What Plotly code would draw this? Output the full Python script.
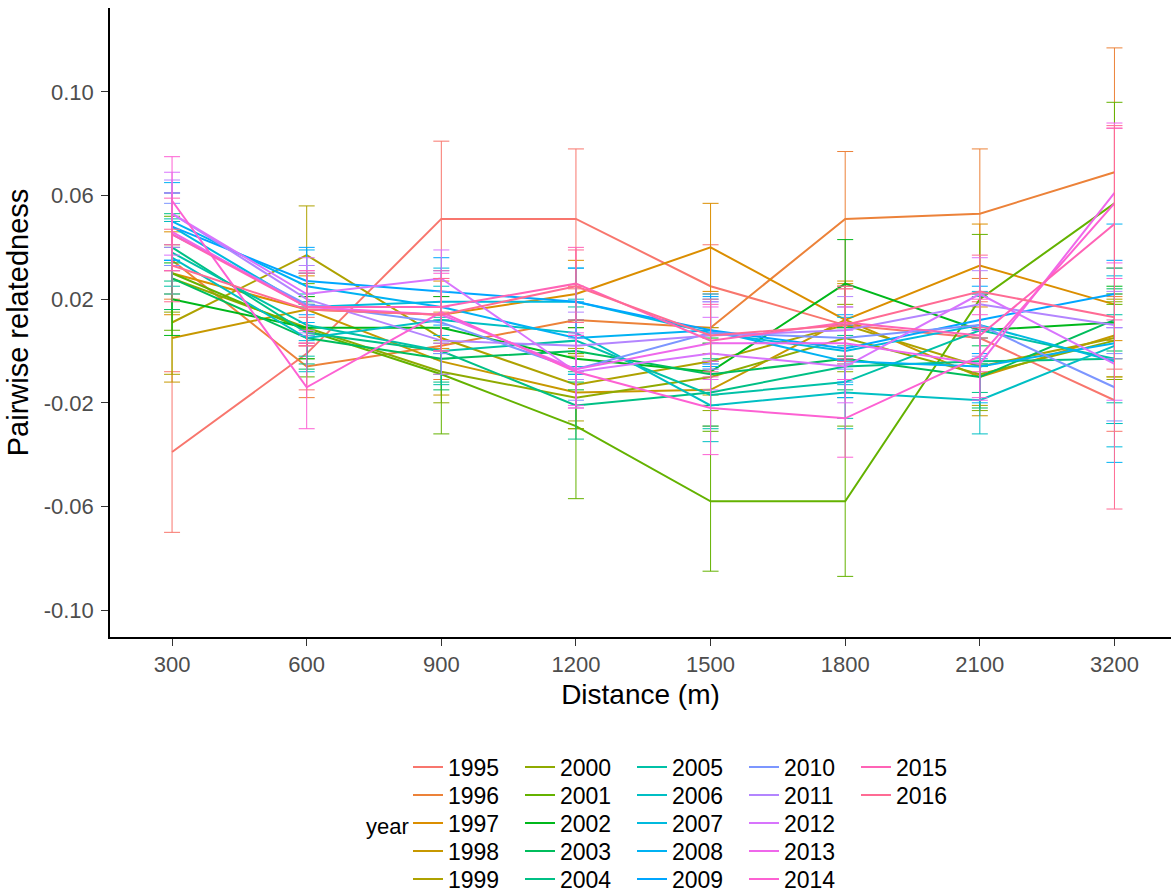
import math
import plotly.graph_objects as go

# ---------------- data ----------------
distances = ["300", "600", "900", "1200", "1500", "1800", "2100", "3200"]
years = [str(y) for y in range(1995, 2017)]
y_ticks = [-0.10, -0.06, -0.02, 0.02, 0.06, 0.10]
y_tick_labels = ["-0.10", "-0.06", "-0.02", "0.02", "0.06", "0.10"]

r_1995 = [-0.039, -0.001, 0.051, 0.051, 0.025, 0.010, 0.005, -0.019]
e_1995 = [0.031, 0.014, 0.030, 0.027, 0.016, 0.014, 0.014, 0.012]
r_1996 = [0.035, -0.006, 0.002, 0.012, 0.009, 0.051, 0.053, 0.069]
e_1996 = [0.015, 0.012, 0.013, 0.013, 0.013, 0.026, 0.025, 0.048]
r_1997 = [0.030, 0.016, 0.014, 0.022, 0.040, 0.012, 0.033, 0.018]
e_1997 = [0.016, 0.013, 0.013, 0.013, 0.017, 0.015, 0.016, 0.014]
r_1998 = [0.005, 0.016, -0.004, -0.016, -0.015, 0.012, -0.010, 0.006]
e_1998 = [0.017, 0.014, 0.013, 0.014, 0.014, 0.014, 0.015, 0.016]
r_1999 = [0.011, 0.037, 0.005, -0.013, -0.004, 0.010, -0.006, 0.005]
e_1999 = [0.020, 0.019, 0.014, 0.014, 0.013, 0.015, 0.015, 0.015]
r_2000 = [0.028, 0.009, -0.008, -0.018, -0.010, 0.005, -0.009, 0.004]
e_2000 = [0.013, 0.012, 0.012, 0.012, 0.013, 0.013, 0.014, 0.015]
r_2001 = [0.030, 0.008, -0.009, -0.029, -0.058, -0.058, 0.020, 0.057]
e_2001 = [0.022, 0.018, 0.023, 0.028, 0.027, 0.029, 0.025, 0.039]
r_2002 = [0.020, 0.009, 0.009, -0.003, -0.008, 0.026, 0.008, 0.011]
e_2002 = [0.014, 0.012, 0.012, 0.012, 0.013, 0.017, 0.014, 0.014]
r_2003 = [0.028, 0.005, -0.003, 0.000, -0.009, -0.003, -0.010, 0.012]
e_2003 = [0.012, 0.012, 0.012, 0.012, 0.012, 0.012, 0.012, 0.012]
r_2004 = [0.040, 0.007, 0.000, -0.021, -0.016, -0.006, -0.004, -0.003]
e_2004 = [0.013, 0.012, 0.012, 0.013, 0.013, 0.012, 0.012, 0.025]
r_2005 = [0.038, 0.010, 0.000, 0.004, -0.017, -0.012, 0.008, -0.003]
e_2005 = [0.013, 0.012, 0.013, 0.013, 0.013, 0.014, 0.013, 0.017]
r_2006 = [0.036, 0.005, 0.012, 0.007, -0.021, -0.016, -0.019, 0.002]
e_2006 = [0.014, 0.013, 0.013, 0.013, 0.014, 0.014, 0.013, 0.030]
r_2007 = [0.048, 0.017, 0.019, 0.019, 0.007, 0.000, 0.010, -0.004]
e_2007 = [0.013, 0.013, 0.013, 0.013, 0.013, 0.013, 0.013, 0.033]
r_2008 = [0.050, 0.025, 0.017, 0.005, 0.008, -0.004, -0.006, 0.003]
e_2008 = [0.015, 0.014, 0.014, 0.014, 0.014, 0.014, 0.014, 0.046]
r_2009 = [0.048, 0.027, 0.023, 0.019, 0.008, 0.001, 0.012, 0.022]
e_2009 = [0.013, 0.013, 0.013, 0.013, 0.013, 0.013, 0.013, 0.013]
r_2010 = [0.045, 0.018, 0.011, -0.007, 0.007, 0.005, 0.010, -0.014]
e_2010 = [0.012, 0.012, 0.012, 0.012, 0.012, 0.012, 0.012, 0.013]
r_2011 = [0.053, 0.020, 0.004, 0.002, 0.006, 0.008, 0.018, 0.010]
e_2011 = [0.013, 0.013, 0.013, 0.013, 0.013, 0.013, 0.013, 0.013]
r_2012 = [0.053, 0.022, 0.028, -0.008, -0.001, -0.006, 0.022, -0.005]
e_2012 = [0.016, 0.014, 0.011, 0.014, 0.014, 0.014, 0.014, 0.014]
r_2013 = [0.046, 0.017, 0.014, -0.007, 0.003, 0.003, -0.005, 0.061]
e_2013 = [0.015, 0.014, 0.014, 0.014, 0.014, 0.014, 0.014, 0.027]
r_2014 = [0.058, -0.014, 0.015, -0.008, -0.022, -0.026, -0.002, 0.057]
e_2014 = [0.017, 0.016, 0.015, 0.014, 0.018, 0.015, 0.016, 0.029]
r_2015 = [0.045, 0.017, 0.017, 0.026, 0.004, 0.011, 0.006, 0.049]
e_2015 = [0.014, 0.014, 0.014, 0.014, 0.014, 0.014, 0.014, 0.037]
r_2016 = [0.033, 0.016, 0.014, 0.025, 0.006, 0.010, 0.023, 0.013]
e_2016 = [0.014, 0.014, 0.014, 0.014, 0.014, 0.014, 0.014, 0.074]

means = [r_1995, r_1996, r_1997, r_1998, r_1999, r_2000, r_2001, r_2002, r_2003,
         r_2004, r_2005, r_2006, r_2007, r_2008, r_2009, r_2010, r_2011, r_2012,
         r_2013, r_2014, r_2015, r_2016]
errors = [e_1995, e_1996, e_1997, e_1998, e_1999, e_2000, e_2001, e_2002, e_2003,
          e_2004, e_2005, e_2006, e_2007, e_2008, e_2009, e_2010, e_2011, e_2012,
          e_2013, e_2014, e_2015, e_2016]


# ---------------- ggplot2 default hue palette ----------------
def hcl_hex(h, c=100.0, l=65.0):
    xn, yn, zn = 95.047, 100.0, 108.883
    hr = math.radians(h)
    U, V = c * math.cos(hr), c * math.sin(hr)
    Y = yn * ((l + 16) / 116) ** 3 if l > 8 else yn * l / 903.3
    den = xn + 15 * yn + 3 * zn
    un, vn = 4 * xn / den, 9 * yn / den
    u = U / (13 * l) + un
    v = V / (13 * l) + vn
    X = 9.0 * Y * u / (4 * v)
    Z = -X / 3 - 5 * Y + 3 * Y / v
    X, Y, Z = X / 100, Y / 100, Z / 100
    rgb = [3.240479 * X - 1.537150 * Y - 0.498535 * Z,
           -0.969256 * X + 1.875992 * Y + 0.041556 * Z,
           0.055648 * X - 0.204043 * Y + 1.057311 * Z]
    out = []
    for ch in rgb:
        ch = 12.92 * ch if ch <= 0.0031308 else 1.055 * ch ** (1 / 2.4) - 0.055
        out.append(int(round(min(max(ch, 0), 1) * 255)))
    return "#%02X%02X%02X" % tuple(out)


n = len(years)
colors = [hcl_hex(15 + 360.0 * i / n) for i in range(n)]

FONT = "Liberation Sans, Arial, sans-serif"
N_ROWS = 5

fig = go.Figure()
for i, yr in enumerate(years):
    row = i % N_ROWS
    leg = "legend" if row == 0 else "legend%d" % (row + 1)
    fig.add_trace(go.Scatter(
        x=distances, y=means[i], mode="lines", name=yr,
        line=dict(color=colors[i], width=2),
        error_y=dict(type="data", array=errors[i], visible=True,
                     color=colors[i], thickness=1, width=8),
        legend=leg,
    ))

# plot area geometry (pixels)
L, T, W, H = 110, 8, 1171, 893
B = 637
plot_w = W - L
plot_h = B - T


def px_x(px):
    return (px - L) / plot_w


def px_y(py):
    return (B - py) / plot_h


legend_common = dict(orientation="h", xanchor="left", yanchor="middle",
                     bgcolor="rgba(0,0,0,0)", borderwidth=0,
                     font=dict(family=FONT, size=23, color="black"),
                     itemwidth=30, entrywidth=67, entrywidthmode="pixels",
                     traceorder="normal")
row_y = [767, 795, 823, 851, 879]
layout_legends = {}
for k, ry in enumerate(row_y):
    key = "legend" if k == 0 else "legend%d" % (k + 1)
    layout_legends[key] = dict(x=px_x(408), y=px_y(ry), **legend_common)

fig.update_layout(
    width=W, height=H, autosize=False,
    margin=dict(l=L, r=0, t=T, b=H - B, pad=0, autoexpand=False),
    paper_bgcolor="white", plot_bgcolor="white",
    showlegend=True,
    font=dict(family=FONT),
    xaxis=dict(
        type="category", categoryorder="array", categoryarray=distances,
        range=[-0.461, 7.42], showgrid=False, zeroline=False,
        showline=True, linecolor="black", linewidth=1.6,
        ticks="outside", ticklen=7, tickwidth=1.4, tickcolor="#333333",
        tickfont=dict(family=FONT, size=22, color="#4D4D4D"),
        title=dict(text="Distance (m)", font=dict(family=FONT, size=28, color="black"),
                   standoff=8),
        fixedrange=True,
    ),
    yaxis=dict(
        range=[-0.1104, 0.1324], tickvals=y_ticks, ticktext=y_tick_labels,
        showgrid=False, zeroline=False,
        showline=True, linecolor="black", linewidth=1.6,
        ticks="outside", ticklen=7, tickwidth=1.4, tickcolor="#333333",
        tickfont=dict(family=FONT, size=22, color="#4D4D4D"),
        ticklabelstandoff=3,
        title=dict(text="Pairwise relatedness",
                   font=dict(family=FONT, size=29, color="black"), standoff=6),
        fixedrange=True,
    ),
    annotations=[dict(text="year", xref="paper", yref="paper",
                      x=px_x(364), y=px_y(826), xanchor="left", yanchor="middle",
                      showarrow=False,
                      font=dict(family=FONT, size=22, color="black"))],
    **layout_legends,
)

fig.write_html("out.html")
